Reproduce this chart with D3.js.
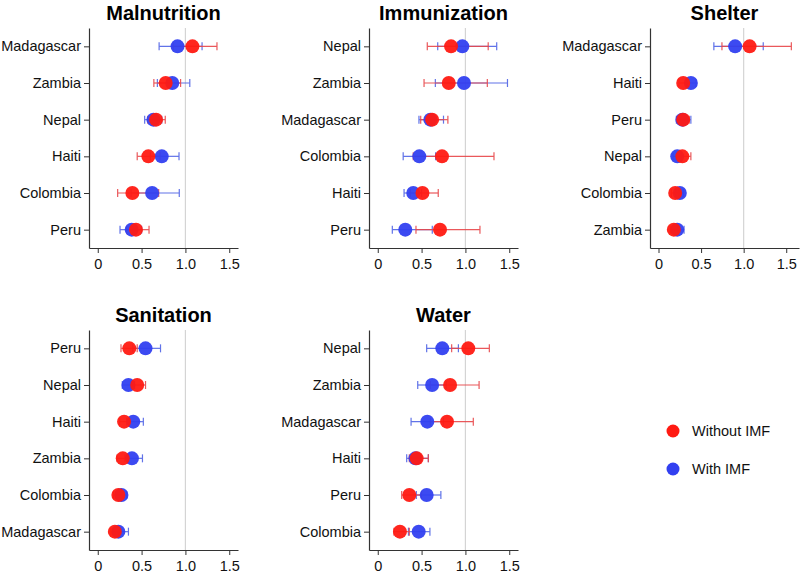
<!DOCTYPE html>
<html>
<head>
<meta charset="utf-8">
<script src="https://cdn.jsdelivr.net/npm/d3@7"></script>
<style>
    body { margin: 0; background: #fff; }
    svg { font-family: "Liberation Sans", Arial, sans-serif; }
</style>
</head>
<body>
<div id="chart"></div>
<script>
// Panel titles and country order (top to bottom)
const titles = ["Malnutrition", "Immunization", "Shelter", "Sanitation", "Water"];
const countries = [
    ["Madagascar", "Zambia", "Nepal", "Haiti", "Colombia", "Peru"],
    ["Nepal", "Zambia", "Madagascar", "Colombia", "Haiti", "Peru"],
    ["Madagascar", "Haiti", "Peru", "Nepal", "Colombia", "Zambia"],
    ["Peru", "Nepal", "Haiti", "Zambia", "Colombia", "Madagascar"],
    ["Nepal", "Zambia", "Madagascar", "Haiti", "Peru", "Colombia"]
];

// Without IMF: [estimate, low, high]
const withoutIMF = [
    [[1.08, 0.86, 1.36], [0.775, 0.64, 0.945], [0.665, 0.57, 0.77], [0.577, 0.45, 0.71], [0.395, 0.227, 0.695], [0.436, 0.33, 0.585]],
    [[0.836, 0.565, 1.26], [0.81, 0.528, 1.25], [0.62, 0.49, 0.80], [0.733, 0.405, 1.326], [0.51, 0.37, 0.69], [0.71, 0.436, 1.166]],
    [[1.07, 0.745, 1.56], [0.29, 0.24, 0.34], [0.29, 0.22, 0.36], [0.28, 0.21, 0.38], [0.196, 0.15, 0.24], [0.18, 0.14, 0.23]],
    [[0.36, 0.265, 0.45], [0.45, 0.38, 0.545], [0.30, 0.25, 0.36], [0.285, 0.22, 0.35], [0.235, 0.18, 0.29], [0.195, 0.15, 0.24]],
    [[1.033, 0.843, 1.273], [0.825, 0.60, 1.156], [0.79, 0.60, 1.09], [0.444, 0.36, 0.577], [0.36, 0.273, 0.50], [0.253, 0.185, 0.36]]
];

// With IMF: [estimate, low, high]
const withIMF = [
    [[0.91, 0.70, 1.19], [0.85, 0.68, 1.05], [0.635, 0.535, 0.73], [0.73, 0.60, 0.927], [0.62, 0.38, 0.93], [0.387, 0.254, 0.50]],
    [[0.965, 0.684, 1.357], [0.984, 0.657, 1.48], [0.60, 0.47, 0.75], [0.474, 0.29, 0.66], [0.405, 0.30, 0.50], [0.314, 0.166, 0.622]],
    [[0.90, 0.65, 1.23], [0.38, 0.33, 0.44], [0.28, 0.21, 0.38], [0.22, 0.17, 0.27], [0.25, 0.20, 0.29], [0.22, 0.15, 0.30]],
    [[0.545, 0.40, 0.716], [0.35, 0.28, 0.42], [0.405, 0.33, 0.52], [0.39, 0.31, 0.51], [0.27, 0.20, 0.33], [0.235, 0.17, 0.35]],
    [[0.736, 0.558, 0.92], [0.62, 0.456, 0.78], [0.565, 0.38, 0.75], [0.43, 0.33, 0.577], [0.558, 0.44, 0.72], [0.467, 0.35, 0.595]]
];

// x axis upper limit per panel
const xMax = [1.6, 1.6, 1.65, 1.6, 1.6];
const xTicks = [0, 0.5, 1.0, 1.5];
const legendLabels = ["Without IMF", "With IMF"];

const colors = {
    without: "#ff1a12",
    withBar: "#5064e6",
    withDot: "#3240f0",
    withoutBar: "#e8474a"
};

const width = 800, height = 575;
const svg = d3.select("#chart").append("svg")
    .attr("width", width)
    .attr("height", height);

// Panel placement: left edge of plot and top of plot
const panelPos = [
    { x: 89, y: 28 },
    { x: 369, y: 28 },
    { x: 650, y: 28 },
    { x: 89, y: 330 },
    { x: 369, y: 330 }
];
const plotW = 149, plotH = 220;

titles.forEach((title, i) => {
    const pos = panelPos[i];
    const g = svg.append("g").attr("transform", `translate(${pos.x},${pos.y})`);

    const x = d3.scaleLinear().domain([-0.1, xMax[i]]).range([0, plotW]);
    const y = d3.scalePoint().domain(countries[i]).range([0, plotH]).padding(0.5);

    // reference line at 1
    g.append("line")
        .attr("x1", x(1)).attr("x2", x(1))
        .attr("y1", 0).attr("y2", plotH)
        .attr("stroke", "#d4d4d4")
        .attr("stroke-width", 1.2);

    // axes
    const xAxis = g.append("g")
        .attr("transform", `translate(0,${plotH})`)
        .call(d3.axisBottom(x).tickValues(xTicks).tickFormat(d => d === 0 ? "0" : d3.format(".1f")(d)).tickSize(5).tickSizeOuter(0));
    const yAxis = g.append("g")
        .call(d3.axisLeft(y).tickSize(5).tickSizeOuter(0));

    [xAxis, yAxis].forEach(ax => {
        ax.select(".domain").attr("stroke", "#333").attr("stroke-width", 1.2);
        ax.selectAll(".tick line").attr("stroke", "#333");
        ax.selectAll(".tick text")
            .attr("fill", "#111")
            .style("font-size", "14.5px")
            .style("font-family", "Liberation Sans, Arial, sans-serif");
    });
    xAxis.selectAll(".tick text").attr("dy", "0.95em").attr("y", 7);
    yAxis.selectAll(".tick text").attr("x", -8);

    // title
    g.append("text")
        .attr("x", plotW / 2)
        .attr("y", -8)
        .attr("text-anchor", "middle")
        .style("font-size", "20px")
        .style("font-weight", "bold")
        .attr("fill", "#000")
        .text(title);

    const series = [
        { data: withIMF[i], bar: colors.withBar, dot: colors.withDot },
        { data: withoutIMF[i], bar: colors.withoutBar, dot: colors.without }
    ];

    // error bars first, then dots
    series.forEach(s => {
        const bars = g.append("g")
            .attr("stroke", s.bar)
            .attr("stroke-width", 1.2)
            .attr("opacity", 0.9);
        s.data.forEach((d, j) => {
            const cy = y(countries[i][j]);
            bars.append("line")
                .attr("x1", x(d[1])).attr("x2", x(d[2]))
                .attr("y1", cy).attr("y2", cy);
            bars.append("line")
                .attr("x1", x(d[1])).attr("x2", x(d[1]))
                .attr("y1", cy - 4).attr("y2", cy + 4);
            bars.append("line")
                .attr("x1", x(d[2])).attr("x2", x(d[2]))
                .attr("y1", cy - 4).attr("y2", cy + 4);
        });
    });

    series.forEach(s => {
        g.append("g").selectAll("circle")
            .data(s.data)
            .join("circle")
            .attr("cx", d => x(d[0]))
            .attr("cy", (d, j) => y(countries[i][j]))
            .attr("r", 7)
            .attr("fill", s.dot)
            .attr("opacity", 0.95);
    });
});

// Legend
const legend = svg.append("g");
const legendColors = [colors.without, colors.withDot];
legendLabels.forEach((label, k) => {
    const ly = 431 + k * 38;
    legend.append("circle")
        .attr("cx", 673).attr("cy", ly)
        .attr("r", 6.5)
        .attr("fill", legendColors[k]);
    legend.append("text")
        .attr("x", 692).attr("y", ly)
        .attr("dy", "0.35em")
        .style("font-size", "14.5px")
        .attr("fill", "#111")
        .text(label);
});
</script>
</body>
</html>
